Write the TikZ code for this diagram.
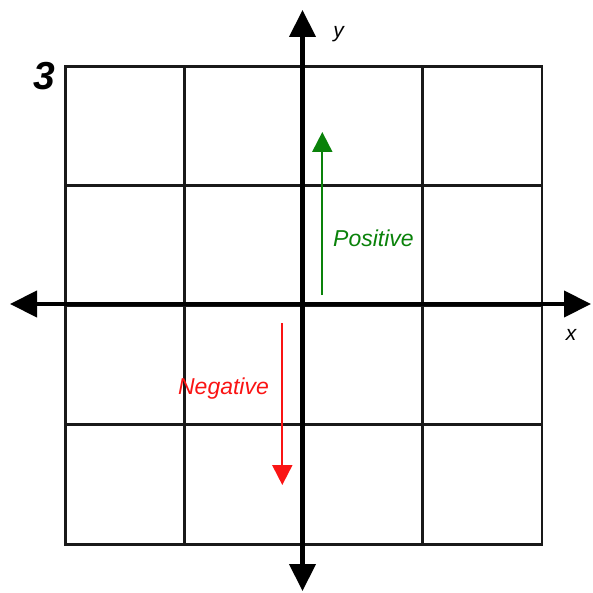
\documentclass[tikz,border=0pt]{standalone}
\usepackage{fontspec}
\setmainfont{Liberation Sans}
\usetikzlibrary{arrows.meta}
\definecolor{PosGreen}{RGB}{10,130,10}
\definecolor{NegRed}{RGB}{250,20,20}

\begin{document}
\begin{tikzpicture}[x=1pt,y=-1pt,
  gridline/.style={line width=2.8pt,black!90,line cap=rect},
  axis/.style={line width=4.2pt,-{Triangle[length=27pt,width=26pt]}},
  dirarrow/.style={line width=2pt,-{Triangle[length=20pt,width=20pt]}},
  lbl/.style={inner sep=0pt,font=\fontsize{23}{26}\selectfont\itshape},
]
\useasboundingbox (0,0) rectangle (592,593);
% grid
\foreach \i in {0,...,4} {
  \draw[gridline] (65.5+119.1*\i,66.5) -- (65.5+119.1*\i,544.1);
  \draw[gridline] (65.5,66.5+119.4*\i) -- (541.9,66.5+119.4*\i);
}
% axes
\coordinate (xl) at (302.5,304);
\coordinate (west) at (10,304);
\coordinate (east) at (591,304);
\coordinate (north) at (302.5,10);
\coordinate (south) at (302.5,591);
\draw[axis] (xl) -- (west);
\draw[axis] (xl) -- (east);
\draw[axis] (xl) -- (north);
\draw[axis] (xl) -- (south);
\node[lbl,font=\fontsize{21}{24}\selectfont\itshape] (ylab) at (338.5,34) {y};
\node[lbl,font=\fontsize{21}{24}\selectfont\itshape] (xlab) at (571,335) {x};
% direction arrows
\coordinate (posstart) at (322.3,295);
\coordinate (posend) at (322.3,132);
\coordinate (negstart) at (282.3,323);
\coordinate (negend) at (282.3,485);
\draw[dirarrow,PosGreen] (posstart) -- (posend);
\draw[dirarrow,NegRed] (negstart) -- (negend);
\node[lbl,PosGreen] (pos) at (373.5,238.5) {Positive};
\node[lbl,NegRed] (neg) at (223.5,388.5) {Negative};
% number
\node[inner sep=0pt,font=\fontsize{39}{42}\selectfont\bfseries\itshape] (num) at (44,76) {3};
\end{tikzpicture}
\end{document}
